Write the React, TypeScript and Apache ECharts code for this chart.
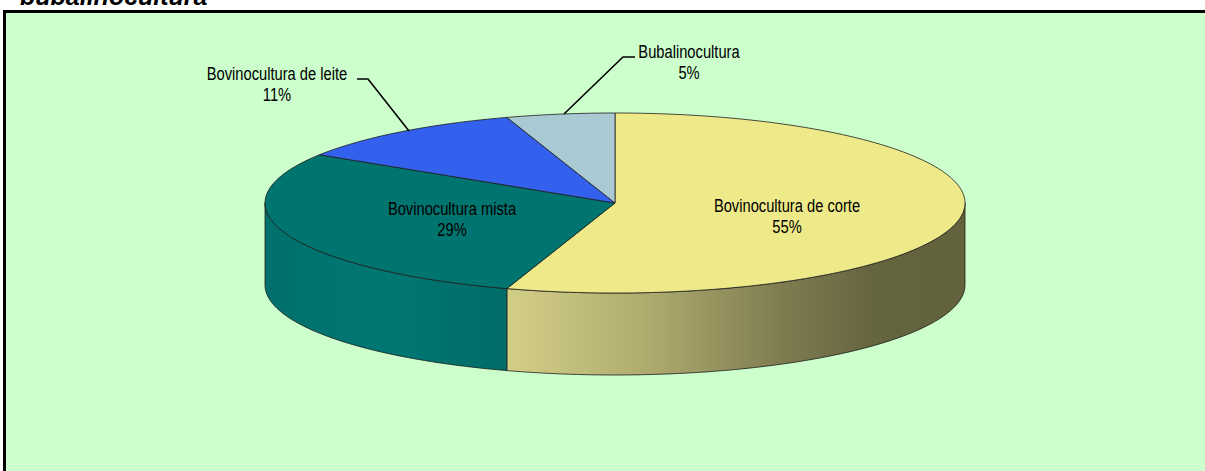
import React, { useEffect, useRef } from "react";
import * as echarts from "echarts";

const categories = [
  "Bovinocultura de corte",
  "Bovinocultura mista",
  "Bovinocultura de leite",
  "Bubalinocultura",
];
const values = [55, 29, 11, 5];
const titleText = "bubalinocultura";

const topColors = ["#EEEA8A", "#00746F", "#3361EE", "#A9C9D3"];
const sideStops = [
  [
    [0.0, "#D3CF87"],
    [0.3, "#B0AC70"],
    [0.6, "#7F7C50"],
    [0.8, "#64643F"],
    [1.0, "#62623D"],
  ],
  [
    [0.0, "#00706C"],
    [0.5, "#007773"],
    [1.0, "#006C68"],
  ],
  [
    [0, "#2850C0"],
    [1, "#2850C0"],
  ],
  [
    [0, "#88A8B0"],
    [1, "#88A8B0"],
  ],
];
// label centers
const labelPos = [
  [787, 216],
  [452, 219],
  [277, 84],
  [689, 62],
];
const leaderLines: number[][][] = [
  [],
  [],
  [
    [357, 79],
    [368, 79],
    [409, 131],
  ],
  [
    [635, 57],
    [623, 57],
    [564, 114],
  ],
];

const cx = 615;
const cy = 203;
const rx = 350;
const ry = 90;
const depth = 82;

const rad = (d: number) => (d * Math.PI) / 180;
const pt = (deg: number, dy: number) => [
  cx + rx * Math.cos(rad(deg)),
  cy + ry * Math.sin(rad(deg)) + dy,
];
const arc = (a0: number, a1: number, dy: number) => {
  const n = Math.max(2, Math.ceil(Math.abs(a1 - a0) / 1.5));
  const out: number[][] = [];
  for (let i = 0; i <= n; i++) out.push(pt(a0 + ((a1 - a0) * i) / n, dy));
  return out;
};

export default function App() {
  const ref = useRef<HTMLDivElement>(null);
  useEffect(() => {
    if (!ref.current) return;
    const chart = echarts.init(ref.current, undefined, { renderer: "svg" });
    const total = values.reduce((a, b) => a + b, 0);
    const cum: number[] = [];
    let acc = 0;
    values.forEach((v) => {
      cum.push(acc);
      acc += v;
    });

    const renderItem = (params: any) => {
      const i = params.dataIndex;
      const v = values[i];
      const a0 = -90 + (360 * cum[i]) / total;
      const a1 = a0 + (360 * v) / total;
      const children: any[] = [];
      const s = Math.max(a0, 0);
      const e = Math.min(a1, 180);
      if (e > s) {
        const top = arc(s, e, 0);
        const bot = arc(e, s, depth);
        const xs = top.map((p) => p[0]);
        const minX = Math.min(...xs);
        const maxX = Math.max(...xs);
        children.push({
          type: "polygon",
          z2: 1,
          shape: { points: top.concat(bot) },
          style: {
            fill: new echarts.graphic.LinearGradient(
              minX,
              0,
              maxX,
              0,
              sideStops[i].map((st) => ({ offset: st[0] as number, color: st[1] as string })),
              true
            ),
            stroke: "#1e1e1e",
            lineWidth: 0.8,
          },
        });
      }
      children.push({
        type: "polygon",
        z2: 2,
        shape: { points: [[cx, cy]].concat(arc(a0, a1, 0)) },
        style: { fill: topColors[i], stroke: "#1e1e1e", lineWidth: 0.8 },
      });
      if (leaderLines[i].length) {
        children.push({
          type: "polyline",
          z2: 5,
          shape: { points: leaderLines[i] },
          style: { stroke: "#000", lineWidth: 1.6, fill: "none" },
        });
      }
      children.push({
        type: "text",
        z2: 10,
        x: labelPos[i][0],
        y: labelPos[i][1],
        scaleX: 0.84,
        style: {
          text: `${categories[i]}\n${v}%`,
          x: 0,
          y: 0,
          fill: "#000",
          fontFamily: "Liberation Sans",
          fontSize: 17.5,
          lineHeight: 21,
          align: "center",
          verticalAlign: "middle",
        },
      });
      return { type: "group", children };
    };

    chart.setOption({
      animation: false,
      backgroundColor: "#FFFFFF",
      graphic: [
        {
          type: "rect",
          z: -10,
          shape: { x: 6, y: 13, width: 1300, height: 600 },
          style: { fill: "#CCFFCC" },
        },
        {
          type: "rect",
          z: -9,
          shape: { x: 3, y: 10, width: 3, height: 600 },
          style: { fill: "#000" },
        },
        {
          type: "rect",
          z: -9,
          shape: { x: 3, y: 10, width: 1300, height: 3 },
          style: { fill: "#000" },
        },
        {
          type: "text",
          z: -10,
          x: 20,
          y: -4.5,
          style: {
            text: titleText,
            fill: "#000",
            fontFamily: "Liberation Sans",
            fontSize: 25,
            fontWeight: "bold",
            fontStyle: "italic",
            align: "left",
            verticalAlign: "middle",
          },
        },
      ],
      series: [
        {
          type: "custom",
          coordinateSystem: "none",
          data: values.map((v, i) => ({ name: categories[i], value: v })),
          renderItem,
        },
      ],
    });
    return () => chart.dispose();
  }, []);
  return (
    <div
      ref={ref}
      style={{ position: "fixed", left: 0, top: 0, width: 1205, height: 471 }}
    />
  );
}
